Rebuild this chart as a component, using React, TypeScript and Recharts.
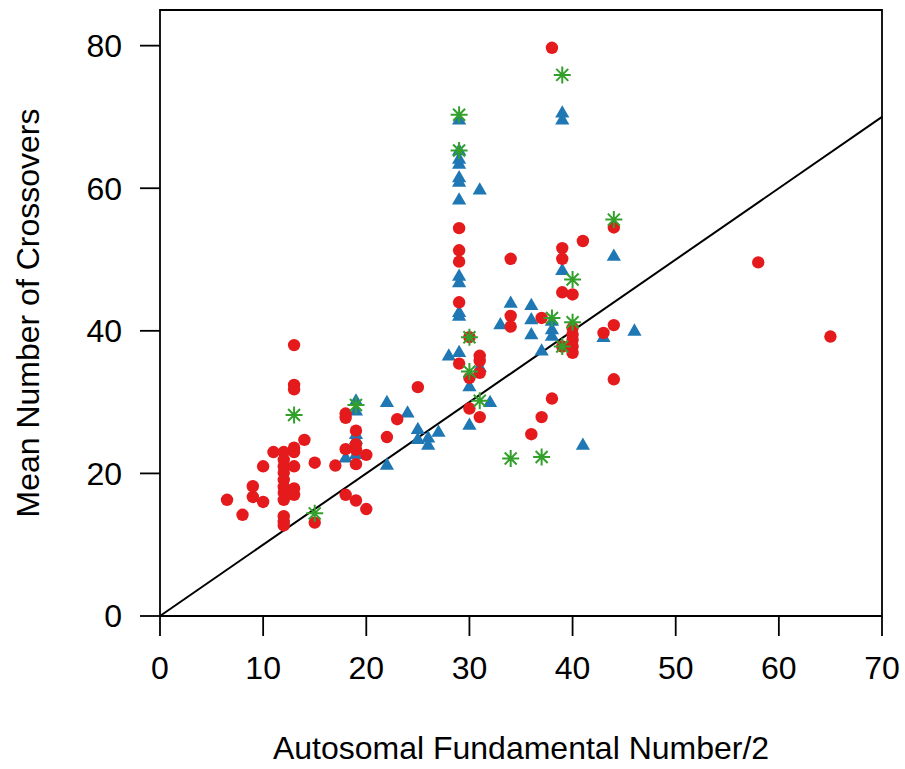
import {
  ReferenceArea,
  ReferenceLine,
  Scatter,
  ScatterChart,
  XAxis,
  YAxis,
} from "recharts";

// [autosomal FN/2, mean crossovers]
const redPoints: [number, number][] = [
  [6.5, 16.3], [8, 14.2], [9, 18.2], [9, 16.7], [10, 21.0], [10, 16.0], [11, 23.0],
  [12, 23.0], [12, 21.9], [12, 21.0], [12, 20.1], [12, 19.1], [12, 18.1], [12, 17.3],
  [12, 16.3], [12, 14.0], [12, 13.2], [12, 12.7],
  [13, 38.0], [13, 32.4], [13, 31.8], [13, 23.6], [13, 23.0], [13, 21.0], [13, 17.9], [13, 17.0],
  [14, 24.7], [15, 21.5], [15, 13.1], [17, 21.1],
  [18, 28.4], [18, 27.8], [18, 23.4], [18, 17.0],
  [19, 26.0], [19, 24.1], [19, 23.3], [19, 21.3], [19, 16.2],
  [20, 22.6], [20, 15.0], [22, 25.1], [23, 27.6], [25, 32.1],
  [29, 54.4], [29, 51.3], [29, 49.7], [29, 44.0], [29, 35.4],
  [30, 39.1], [30, 33.4], [30, 29.1],
  [31, 36.5], [31, 35.8], [31, 34.1], [31, 27.9],
  [34, 50.1], [34, 42.1], [34, 40.6],
  [36, 25.5], [37, 41.8], [37, 27.9], [38, 79.7], [38, 30.5],
  [39, 51.6], [39, 50.1], [39, 45.4], [39, 37.8],
  [40, 45.1], [40, 40.4], [40, 39.5], [40, 38.7], [40, 37.8], [40, 36.9],
  [41, 52.6], [43, 39.7], [44, 54.5], [44, 40.8], [44, 33.2],
  [58, 49.6], [65, 39.2],
];

const bluePoints: [number, number][] = [
  [18, 22.1], [19, 30.1], [19, 28.7], [19, 25.4], [19, 24.7], [19, 22.6],
  [22, 29.9], [22, 21.1], [24, 28.4], [25, 26.1], [25, 24.7], [26, 24.9], [26, 23.9],
  [27, 25.7], [28, 36.4],
  [29, 69.5], [29, 65.2], [29, 64.0], [29, 63.3], [29, 61.4], [29, 60.8], [29, 58.3],
  [29, 47.6], [29, 46.7], [29, 42.5], [29, 42.0], [29, 36.9],
  [30, 32.1], [30, 26.7], [31, 59.7], [31, 34.8], [32, 29.9], [33, 40.8], [34, 43.8],
  [36, 43.5], [36, 41.5], [36, 39.4], [37, 37.1], [38, 41.3], [38, 40.1], [38, 39.2],
  [39, 70.5], [39, 69.5], [39, 48.4], [41, 23.9], [43, 39.0], [44, 50.4], [46, 39.9],
];

const greenPoints: [number, number][] = [
  [13, 28.2], [15, 14.4], [19, 29.6], [29, 70.3], [29, 65.3], [30, 39.1], [30, 34.3],
  [31, 30.2], [34, 22.1], [37, 22.3], [38, 41.8], [39, 75.9], [39, 37.8], [40, 47.2],
  [40, 41.2], [44, 55.6],
];

const xTicks = [0, 10, 20, 30, 40, 50, 60, 70];
const yTicks = [0, 20, 40, 60, 80];

const RED = "#E41A1C";
const BLUE = "#1F78B4";
const GREEN = "#33A02C";
const FONT = "'Liberation Sans', Arial, Helvetica, sans-serif";

const toRows = (pts: [number, number][]) => pts.map(([x, y]) => ({ x, y }));

const Circle = (p: any) => <circle cx={p.cx} cy={p.cy} r={6.2} fill={RED} />;

const Triangle = (p: any) => {
  const { cx, cy } = p;
  const r = 8.2;
  const xc = 7.1;
  return (
    <polygon
      points={`${cx},${cy - r} ${cx + xc},${cy + r / 2} ${cx - xc},${cy + r / 2}`}
      fill={BLUE}
    />
  );
};

const Asterisk = (p: any) => {
  const { cx, cy } = p;
  const a = 8.5;
  const d = 6;
  return (
    <path
      d={`M${cx - a},${cy}L${cx + a},${cy}M${cx},${cy - a}L${cx},${cy + a}` +
        `M${cx - d},${cy - d}L${cx + d},${cy + d}M${cx - d},${cy + d}L${cx + d},${cy - d}`}
      stroke={GREEN}
      strokeWidth={2}
      fill="none"
    />
  );
};

const App = () => {
  return (
    <div style={{ position: "absolute", left: 0, top: 0, fontFamily: FONT }}>
      <ScatterChart
        width={905}
        height={769}
        margin={{ top: 10, right: 23, bottom: 0, left: 0 }}
      >
        <XAxis
          type="number"
          dataKey="x"
          domain={[0, 70]}
          ticks={xTicks}
          allowDataOverflow
          height={153}
          axisLine={false}
          tickSize={20}
          tickMargin={20}
          tickLine={{ stroke: "#000", strokeWidth: 1.8 }}
          tick={{ fill: "#000", fontSize: 32, fontFamily: FONT }}
          label={{
            content: (props: any) => {
              const vb = props.viewBox;
              return (
                <text
                  x={vb.x + vb.width / 2}
                  y={748}
                  textAnchor="middle"
                  dominantBaseline="central"
                  fontSize={32}
                  fontFamily={FONT}
                  fill="#000"
                >
                  Autosomal Fundamental Number/2
                </text>
              );
            },
          }}
        />
        <YAxis
          type="number"
          dataKey="y"
          domain={[0, 85]}
          ticks={yTicks}
          allowDataOverflow
          width={160}
          axisLine={false}
          tickSize={20}
          tickMargin={18}
          tickLine={{ stroke: "#000", strokeWidth: 1.8 }}
          tick={{ fill: "#000", fontSize: 32, fontFamily: FONT }}
          label={{
            content: (props: any) => {
              const vb = props.viewBox;
              const cy = vb.y + vb.height / 2;
              return (
                <text
                  x={28}
                  y={cy}
                  transform={`rotate(-90, 28, ${cy})`}
                  textAnchor="middle"
                  dominantBaseline="central"
                  fontSize={32}
                  fontFamily={FONT}
                  fill="#000"
                >
                  Mean Number of Crossovers
                </text>
              );
            },
          }}
        />
        <ReferenceLine
          segment={[
            { x: 0, y: 0 },
            { x: 70, y: 70 },
          ]}
          stroke="#000"
          strokeWidth={2}
        />
        <Scatter
          name="blue"
          data={toRows(bluePoints)}
          shape={Triangle}
          isAnimationActive={false}
        />
        <Scatter
          name="red"
          data={toRows(redPoints)}
          shape={Circle}
          isAnimationActive={false}
        />
        <Scatter
          name="green"
          data={toRows(greenPoints)}
          shape={Asterisk}
          isAnimationActive={false}
        />
        <ReferenceArea
          x1={0}
          x2={70}
          y1={0}
          y2={85}
          fill="none"
          fillOpacity={0}
          stroke="#000"
          strokeWidth={1.8}
        />
      </ScatterChart>
    </div>
  );
};

export default App;
